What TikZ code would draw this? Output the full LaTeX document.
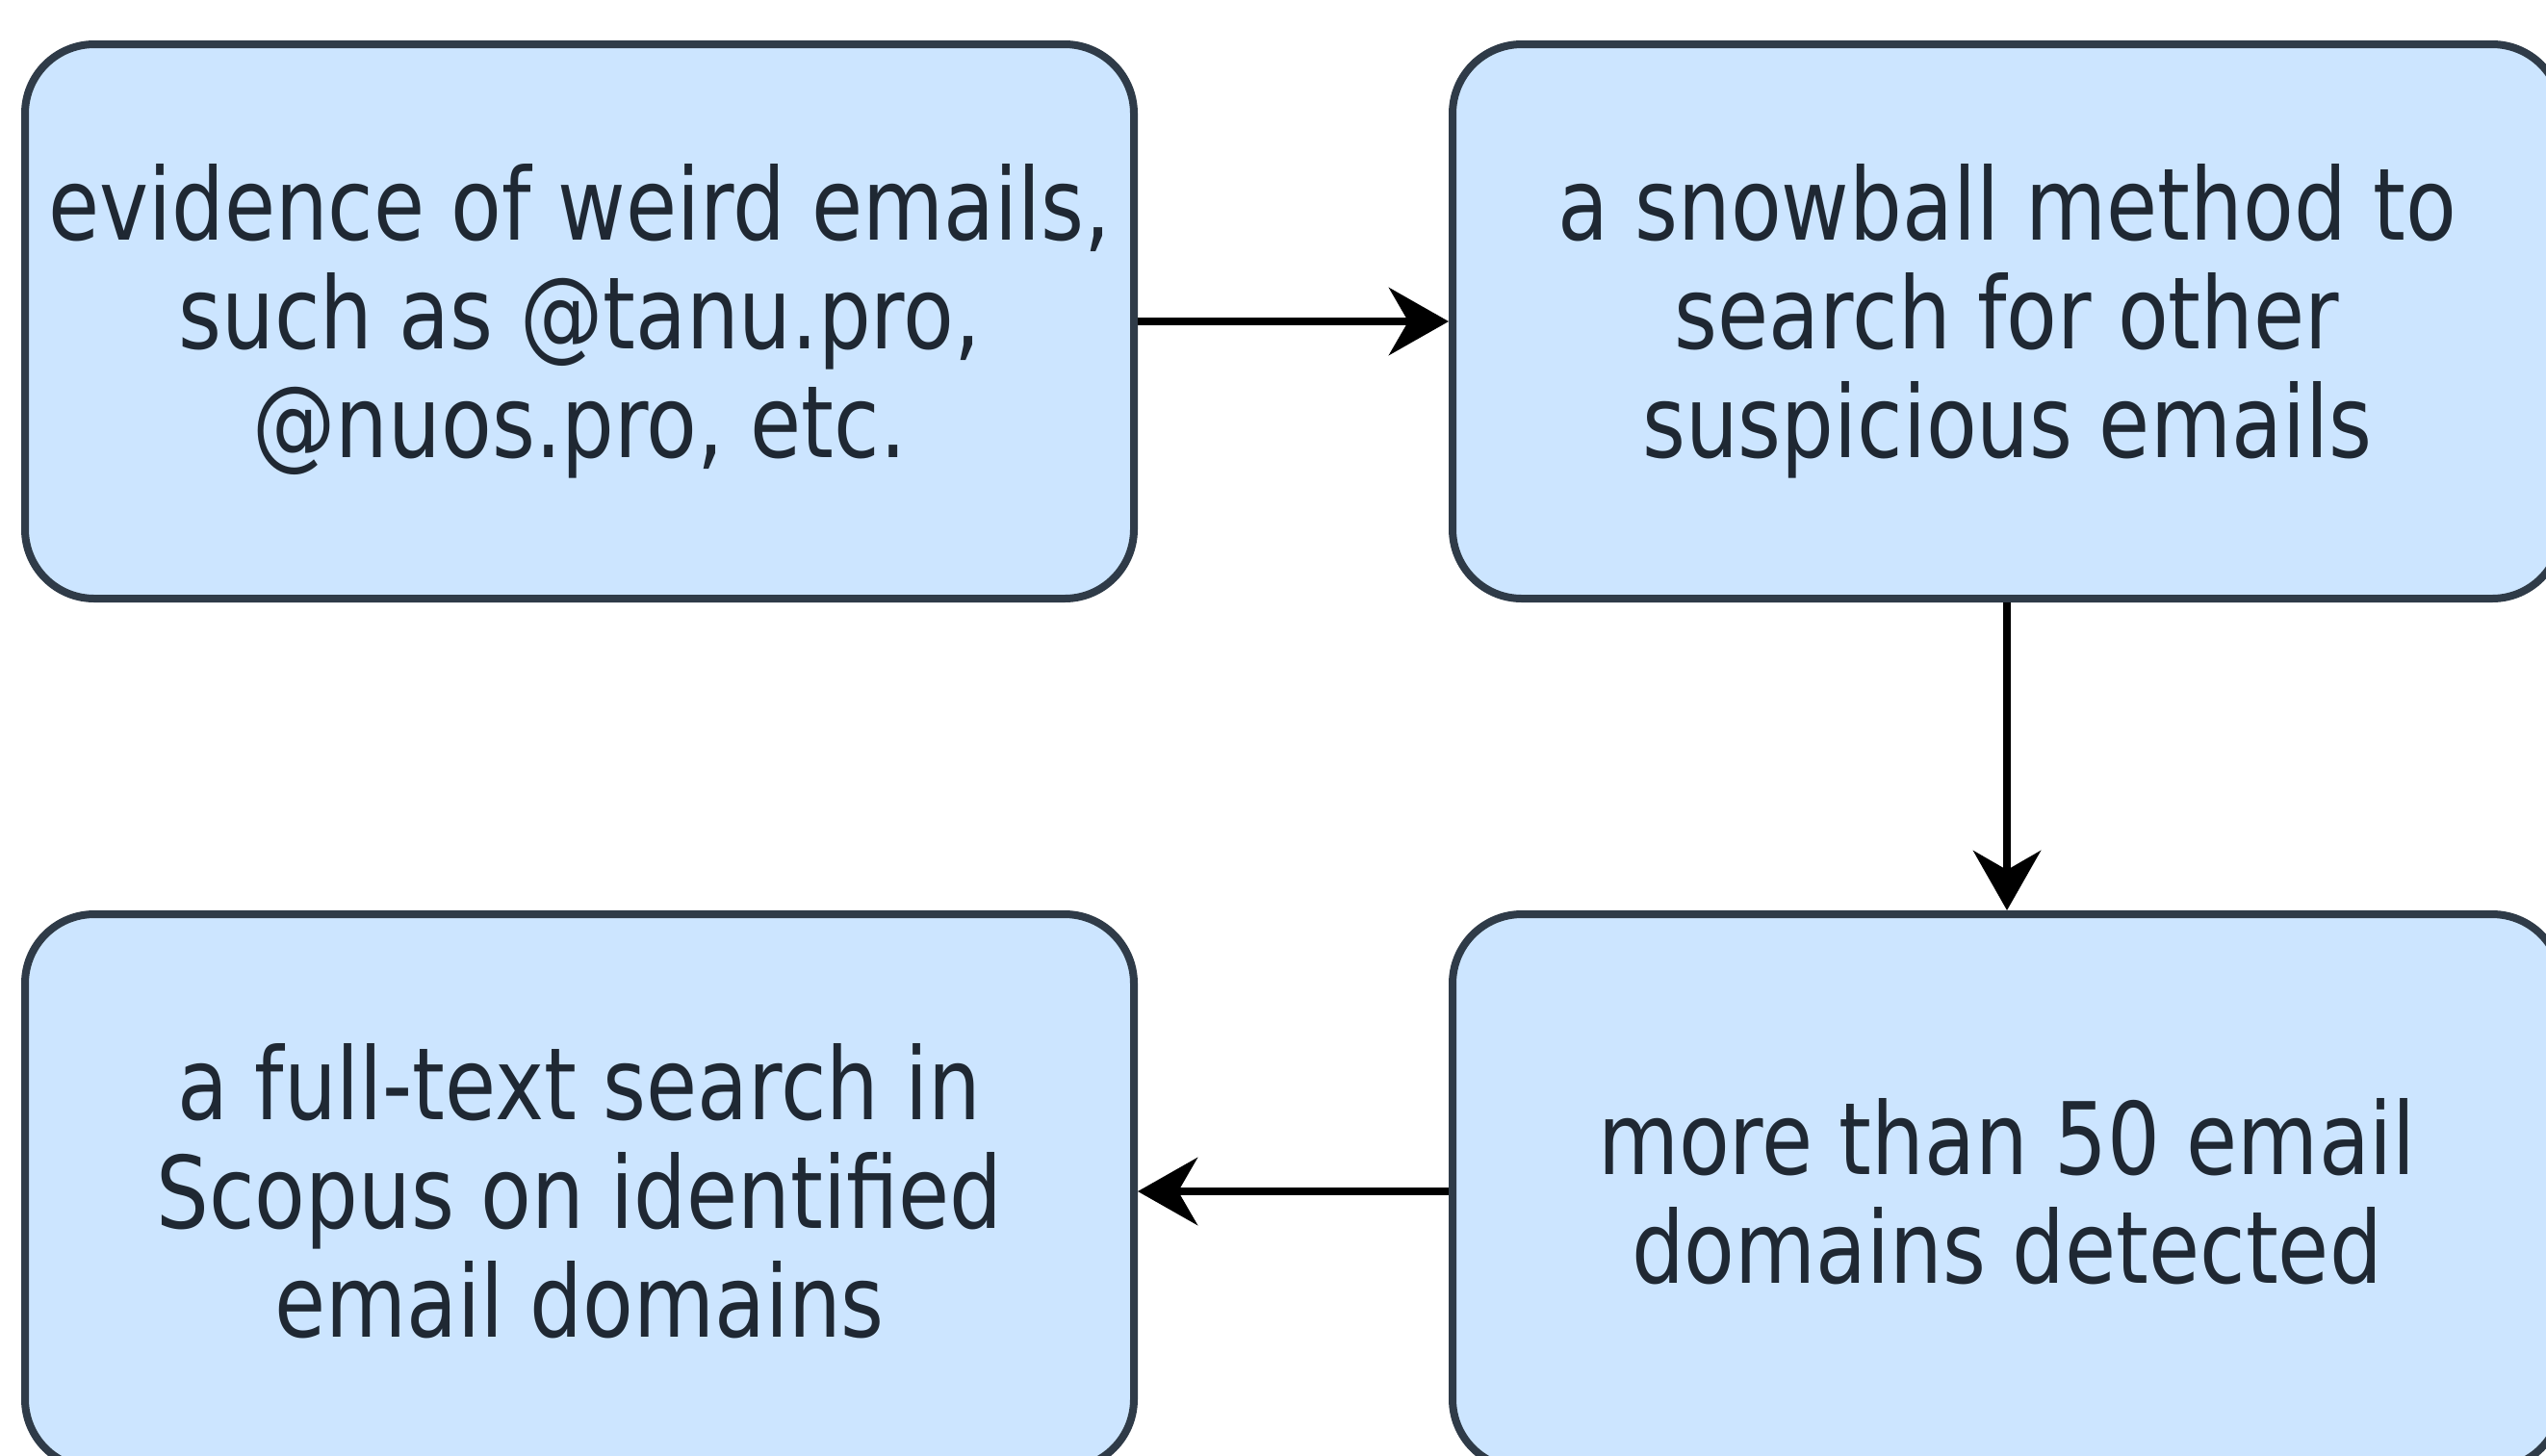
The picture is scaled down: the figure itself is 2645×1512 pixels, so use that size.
\documentclass[tikz,border=0pt]{standalone}
\usepackage{fontspec}
\setmainfont[FakeStretch=0.83]{DejaVu Sans}
\usetikzlibrary{arrows.meta}
\definecolor{boxfill}{HTML}{CCE5FF}
\definecolor{boxline}{HTML}{2F3B48}
\definecolor{boxtext}{HTML}{1F2833}
\tikzset{
  stepbox/.style={draw=boxline, fill=boxfill, line width=2pt, rounded corners=18pt,
    minimum width=288pt, minimum height=144pt, align=center, text=boxtext,
    inner sep=0pt, font=\fontsize{26}{28.25}\selectfont},
  flow/.style={draw=black, line width=2pt,
    -{Stealth[length=15.5pt, width=17.5pt, inset=5pt]}}
}
\begin{document}
\begin{tikzpicture}[x=0.25pt, y=0.25pt]
  \fill[white] (0,0) rectangle (2645,-1512);
  \clip (0,0) rectangle (2645,-1512);
  \node[stepbox] (b1) at (602,-334) {evidence of weird emails,\\such as @tanu.pro,\\@nuos.pro, etc.};
  \node[stepbox] (b2) at (2085,-334) {a snowball method to\\search for other\\suspicious emails};
  \node[stepbox] (b3) at (602,-1238) {a full-text search in\\Scopus on identified\\email domains};
  \node[stepbox] (b4) at (2085,-1238) {more than 50 email\\domains detected};
  \draw[flow] (b1.east) -- (b2.west);
  \draw[flow] (b2.south) -- (b4.north);
  \draw[flow] (b4.west) -- (b3.east);
\end{tikzpicture}
\end{document}
